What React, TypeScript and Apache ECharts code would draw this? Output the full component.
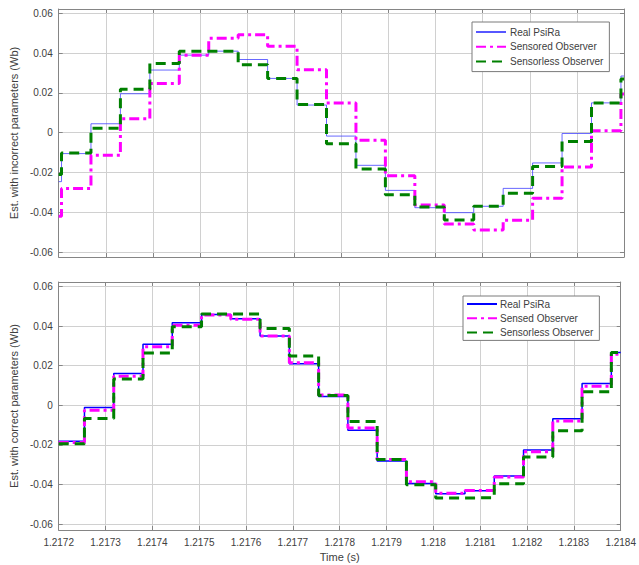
import React, { useEffect, useRef } from 'react';
import * as echarts from 'echarts';

const xMin = 1.2172;
const xMax = 1.2184;
const xTickStep = 0.0001;

// Level start times (s) — upper plot (incorrect parameters)
const topTimes = [
  1.2172, 1.217206, 1.2172685, 1.217331, 1.2173935, 1.217456, 1.2175185, 1.217581,
  1.2176435, 1.217706, 1.2177685, 1.217831, 1.2178935, 1.217956, 1.2180185, 1.218081,
  1.2181435, 1.218206, 1.2182685, 1.218331, 1.2183935,
];
const topReal = [
  -0.0246, -0.0105, 0.0045, 0.0196, 0.0315, 0.039, 0.041, 0.0368, 0.0273, 0.0139, -0.0017,
  -0.0164, -0.029, -0.0377, -0.0402, -0.037, -0.028, -0.0152, -0.0004, 0.015, 0.0285,
];
const topSensored = [
  -0.042, -0.0281, -0.0114, 0.007, 0.0248, 0.039, 0.0475, 0.0493, 0.0435, 0.0316, 0.0149,
  -0.0038, -0.0216, -0.0364, -0.0459, -0.0489, -0.044, -0.033, -0.0173, 0.001, 0.0195,
];
const topSensorless = [
  -0.021, -0.0102, 0.0022, 0.0218, 0.0348, 0.041, 0.041, 0.0342, 0.0273, 0.0142, -0.0055,
  -0.0182, -0.0312, -0.0374, -0.0439, -0.037, -0.0305, -0.017, -0.0044, 0.0149, 0.027,
];

// Level start times (s) — lower plot (correct parameters)
const bottomTimes = [
  1.2172, 1.217255, 1.2173175, 1.21738, 1.2174425, 1.217505, 1.2175675, 1.21763,
  1.2176925, 1.217755, 1.2178175, 1.21788, 1.2179425, 1.218005, 1.2180675, 1.21813,
  1.2181925, 1.218255, 1.2183175, 1.21838,
];
const bottomReal = [
  -0.0181, -0.0011, 0.016, 0.0308, 0.0416, 0.0458, 0.0437, 0.0349, 0.021, 0.0044, -0.0126,
  -0.0281, -0.0395, -0.0446, -0.0431, -0.0356, -0.0226, -0.0068, 0.011, 0.0267,
];
const bottomSensed = [
  -0.0187, -0.0025, 0.0146, 0.0295, 0.0404, 0.0455, 0.0434, 0.035, 0.0215, 0.0052, -0.0114,
  -0.0273, -0.0385, -0.0443, -0.043, -0.0362, -0.0234, -0.0079, 0.0096, 0.0258,
];
const bottomSensorless = [
  -0.0194, -0.0067, 0.0133, 0.0264, 0.0396, 0.046, 0.046, 0.0387, 0.0249, 0.0049, -0.0082,
  -0.0274, -0.0401, -0.0468, -0.0466, -0.0396, -0.0261, -0.0128, 0.0068, 0.0266,
];

const topNames = ['Real PsiRa', 'Sensored Observer', 'Sensorless Observer'];
const bottomNames = ['Real PsiRa ', 'Sensed Observer', 'Sensorless Observer '];

const stepData = (times: number[], vals: number[]) => {
  const d = times.map((t, i) => [t, vals[i]]);
  d.push([xMax, vals[vals.length - 1]]);
  return d;
};

const FONT = 'Liberation Sans, Arial, Helvetica, sans-serif';
const TXT = '#404040';
const FRAME = '#858585';
const GRID = '#d0d0d0';

const xAxisBase = (gridIndex: number, position: 'top' | 'bottom', labels: boolean, split: boolean) => ({
  type: 'value',
  gridIndex,
  position,
  min: xMin,
  max: xMax,
  interval: xTickStep,
  axisLine: { show: true, onZero: false, lineStyle: { color: FRAME, width: 1 } },
  axisTick: { show: true, inside: true, length: 4, lineStyle: { color: FRAME } },
  axisLabel: {
    show: labels,
    margin: 7,
    color: TXT,
    fontSize: 10,
    fontFamily: FONT,
    formatter: (v: number) => String(parseFloat(v.toFixed(4))),
  },
  splitLine: { show: split, lineStyle: { color: GRID, width: 1 } },
});

const yAxisBase = (
  gridIndex: number,
  position: 'left' | 'right',
  min: number,
  max: number,
  labels: boolean,
  split: boolean,
  name?: string,
) => ({
  type: 'value',
  gridIndex,
  position,
  min,
  max,
  splitNumber: 6,
  name: name || '',
  nameLocation: 'middle',
  nameGap: 32,
  nameTextStyle: { color: TXT, fontSize: 11, fontFamily: FONT },
  axisLine: { show: true, onZero: false, lineStyle: { color: FRAME, width: 1 } },
  axisTick: { show: true, inside: true, length: 4, lineStyle: { color: FRAME } },
  axisLabel: {
    show: labels,
    showMinLabel: false,
    showMaxLabel: false,
    margin: 6,
    color: TXT,
    fontSize: 10,
    fontFamily: FONT,
    formatter: (v: number) => String(parseFloat(v.toFixed(3))),
  },
  splitLine: { show: split, lineStyle: { color: GRID, width: 1 } },
});

const legendBase = {
  orient: 'vertical',
  itemWidth: 30,
  itemHeight: 10,
  borderColor: '#7a7a7a',
  borderWidth: 1,
  borderRadius: 0,
  backgroundColor: '#ffffff',
  itemStyle: { opacity: 0, borderWidth: 0 },
  formatter: (n: string) => n.trim(),
  selectedMode: false,
};

export default function App() {
  const ref = useRef<HTMLDivElement>(null);

  useEffect(() => {
    if (!ref.current) return;
    const chart = echarts.init(ref.current, undefined, { renderer: 'svg' });

    const magentaDash = [10, 4, 3, 4];
    const greenDash = [10, 6];

    chart.setOption({
      animation: false,
      backgroundColor: '#ffffff',
      textStyle: { fontFamily: FONT },
      grid: [
        { left: 51, top: 9, width: 573, height: 248 },
        { left: 51, top: 282, width: 573, height: 248 },
      ],
      xAxis: [
        xAxisBase(0, 'bottom', false, true),
        xAxisBase(0, 'top', false, false),
        {
          ...xAxisBase(1, 'bottom', true, true),
          name: 'Time (s)',
          nameLocation: 'middle',
          nameGap: 21,
          nameTextStyle: { color: TXT, fontSize: 11, fontFamily: FONT },
        },
        xAxisBase(1, 'top', false, false),
      ],
      yAxis: [
        yAxisBase(0, 'left', -0.0625, 0.0622, true, true, 'Est. with incorrect parameters (Wb)'),
        yAxisBase(0, 'right', -0.0625, 0.0622, false, false),
        yAxisBase(1, 'left', -0.0629, 0.0622, true, true, 'Est. with correct parameters (Wb)'),
        yAxisBase(1, 'right', -0.0629, 0.0622, false, false),
      ],
      legend: [
        {
          ...legendBase,
          data: topNames,
          left: 472,
          top: 22,
          itemGap: 4.8,
          padding: [5, 6, 5, 3],
          textStyle: { color: TXT, fontSize: 10, fontFamily: FONT, padding: [0, 0, 0, -1] },
        },
        {
          ...legendBase,
          data: bottomNames,
          left: 463,
          top: 296,
          itemGap: 4.2,
          padding: [3, 6, 3, 3],
          textStyle: { color: TXT, fontSize: 10, fontFamily: FONT, padding: [0, 0, 0, -2] },
        },
      ],
      series: [
        {
          name: topNames[0],
          type: 'line',
          xAxisIndex: 0,
          yAxisIndex: 0,
          step: 'end',
          symbol: 'none',
          data: stepData(topTimes, topReal),
          lineStyle: { color: '#3a3aff', width: 0.9, opacity: 0.85 },
          itemStyle: { color: '#3a3aff' },
        },
        {
          name: topNames[1],
          type: 'line',
          xAxisIndex: 0,
          yAxisIndex: 0,
          step: 'end',
          symbol: 'none',
          data: stepData(topTimes, topSensored),
          lineStyle: { color: '#ff00ff', width: 3, type: magentaDash },
          itemStyle: { color: '#ff00ff' },
        },
        {
          name: topNames[2],
          type: 'line',
          xAxisIndex: 0,
          yAxisIndex: 0,
          step: 'end',
          symbol: 'none',
          data: stepData(topTimes, topSensorless),
          lineStyle: { color: '#008000', width: 3, type: greenDash },
          itemStyle: { color: '#008000' },
        },
        {
          name: bottomNames[0],
          type: 'line',
          xAxisIndex: 2,
          yAxisIndex: 2,
          step: 'end',
          symbol: 'none',
          data: stepData(bottomTimes, bottomReal),
          lineStyle: { color: '#0000ff', width: 1.5 },
          itemStyle: { color: '#0000ff' },
        },
        {
          name: bottomNames[1],
          type: 'line',
          xAxisIndex: 2,
          yAxisIndex: 2,
          step: 'end',
          symbol: 'none',
          data: stepData(bottomTimes, bottomSensed),
          lineStyle: { color: '#ff00ff', width: 3, type: magentaDash },
          itemStyle: { color: '#ff00ff' },
        },
        {
          name: bottomNames[2],
          type: 'line',
          xAxisIndex: 2,
          yAxisIndex: 2,
          step: 'end',
          symbol: 'none',
          data: stepData(bottomTimes, bottomSensorless),
          lineStyle: { color: '#008000', width: 3, type: greenDash },
          itemStyle: { color: '#008000' },
        },
      ],
    });

    return () => chart.dispose();
  }, []);

  return (
    <div
      ref={ref}
      style={{ position: 'absolute', left: 0, top: 0, width: 639, height: 565, background: '#fff' }}
    />
  );
}
